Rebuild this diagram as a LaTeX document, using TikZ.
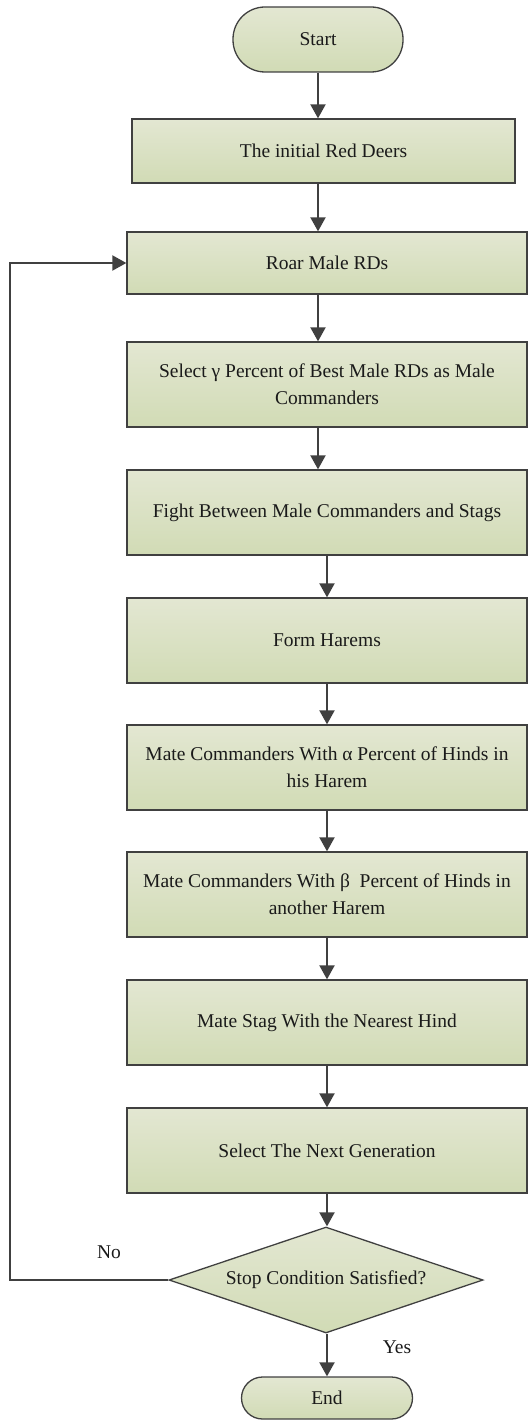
\documentclass[tikz,border=0pt]{standalone}
\usepackage{fontspec}
\setmainfont{Liberation Serif}
\usetikzlibrary{shapes.geometric,arrows.meta}
\definecolor{gtop}{HTML}{E3E7D2}
\definecolor{gbot}{HTML}{D1DBB5}
\definecolor{edge}{HTML}{404040}
\definecolor{txt}{HTML}{1A1A1A}
\tikzset{
  every node/.style={font=\fontsize{19.5}{27}\selectfont, text=txt},
  procbox/.style={draw=edge, line width=1.3pt, top color=gtop, bottom color=gbot,
    rectangle, inner sep=0pt, minimum width=400pt, align=center},
  termbox/.style={draw=edge, line width=1.3pt, top color=gtop, bottom color=gbot,
    rectangle, inner sep=0pt, align=center},
  decbox/.style={draw=edge, line width=1.3pt, top color=gtop, bottom color=gbot,
    diamond, inner sep=0pt, aspect=2.96, minimum width=314pt, minimum height=106pt},
  arr/.style={draw=edge, line width=2pt, -{Triangle[length=14pt,width=15pt]}},
  lbl/.style={inner sep=0pt}
}
\begin{document}
\begin{tikzpicture}[x=1pt,y=-1pt]
\useasboundingbox (0,0) rectangle (528,1420);
\node[termbox, minimum width=170pt, minimum height=65pt, rounded corners=32pt] (start) at (318,39.5) {Start};
\node[procbox, minimum width=383pt, minimum height=64pt] (b1) at (323.5,151) {The initial Red Deers};
\node[procbox, minimum height=62pt] (b2) at (327,263) {Roar Male RDs};
\node[procbox, minimum height=85pt] (b3) at (327,384.5) {Select γ Percent of Best Male RDs as Male\\Commanders};
\node[procbox, minimum height=85pt] (b4) at (327,512.5) {Fight Between Male Commanders and Stags};
\node[procbox, minimum height=85pt] (b5) at (327,640.5) {Form Harems};
\node[procbox, minimum height=85pt] (b6) at (327,767.5) {Mate Commanders With α Percent of Hinds in\\his Harem};
\node[procbox, minimum height=85pt] (b7) at (327,894.5) {Mate Commanders With β~ Percent of Hinds in\\another Harem};
\node[procbox, minimum height=85pt] (b8) at (327,1022.5) {Mate Stag With the Nearest Hind};
\node[procbox, minimum height=85pt] (b9) at (327,1150.5) {Select The Next Generation};
\node[decbox] (dia) at (326,1280) {Stop Condition Satisfied?};
\node[termbox, minimum width=171pt, minimum height=42pt, rounded corners=21pt] (end) at (327,1398) {End};
\node[lbl] (no) at (109,1252) {No};
\node[lbl] (yes) at (397,1347) {Yes};
\coordinate (lp) at (10,1280);
\draw[arr] (start) -- (start |- b1.north);
\draw[arr] (b1.south -| start) -- (b2.north -| start);
\draw[arr] (b2.south -| start) -- (b3.north -| start);
\draw[arr] (b3.south -| start) -- (b4.north -| start);
\draw[arr] (b4) -- (b5);
\draw[arr] (b5) -- (b6);
\draw[arr] (b6) -- (b7);
\draw[arr] (b7) -- (b8);
\draw[arr] (b8) -- (b9);
\draw[arr] (b9.south) -- (b9.south |- dia.north);
\draw[arr] (dia.south -| end) -- (end);
\draw[arr] (dia.west) -- (lp) |- (b2.west);
\end{tikzpicture}
\end{document}
